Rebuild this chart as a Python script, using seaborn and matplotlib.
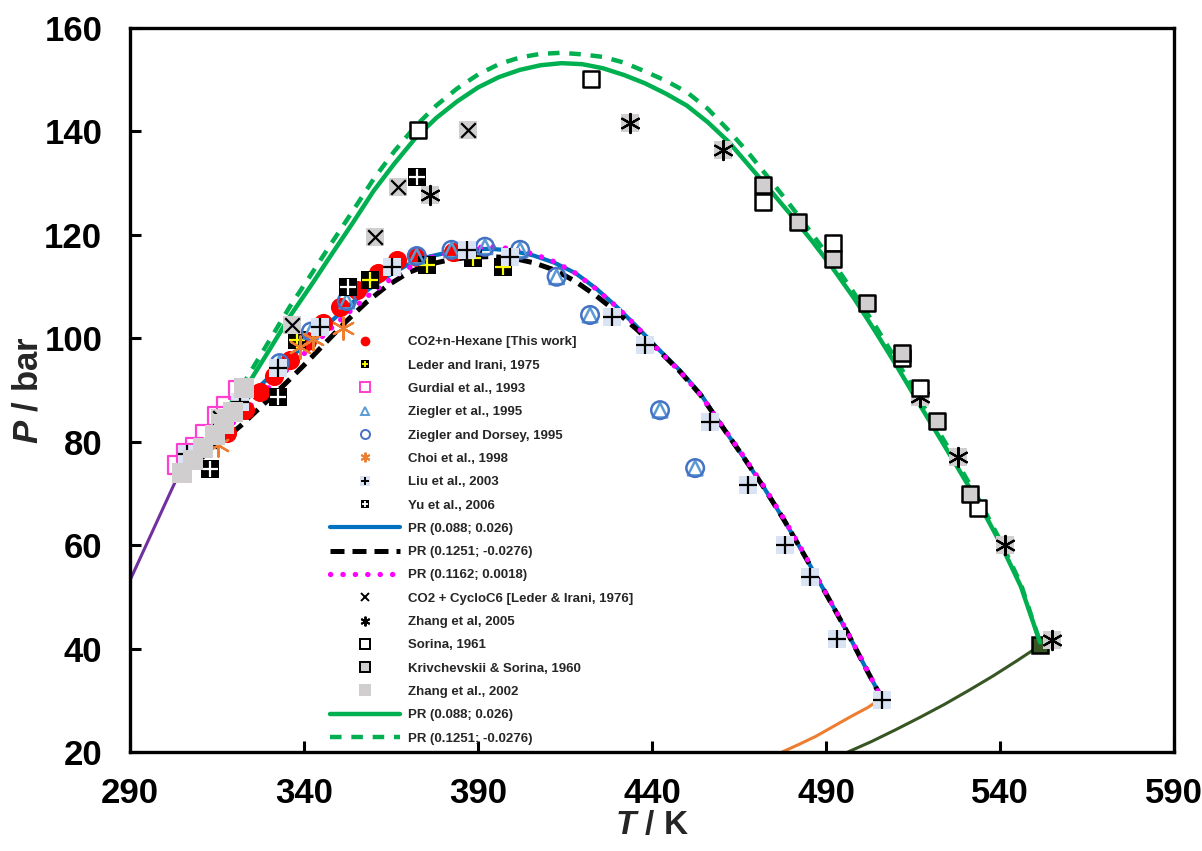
import matplotlib
matplotlib.use("Agg")
import matplotlib.pyplot as plt
import seaborn as sns
from matplotlib.lines import Line2D

# ---------------- data ----------------
# CO2 + n-hexane experimental data
T_red = [317.8, 323, 327.4, 331.5, 336, 341, 345.5, 350.3, 355.1, 361.4, 366.6, 372.4, 382.9]
P_red = [81.6, 86.1, 89.7, 92.8, 95.8, 99.5, 102.9, 106.1, 109.3, 112.6, 115.1, 115.8, 116.7]

T_leder75 = [337.9, 359, 375.3, 388.6, 397.3]
P_leder75 = [99.7, 111.3, 114.2, 115.5, 113.8]

T_gurdial = [303.5, 306, 308.5, 311.5, 315, 317.5, 321]
P_gurdial = [75.5, 77.8, 79, 81.5, 85, 87, 90]

T_zieg95 = [333, 342, 352.3, 372.4, 382.4, 392, 402.1, 412.6, 422.2, 442.3, 452.4]
P_zieg95 = [95.2, 101.3, 107.2, 115.9, 117.1, 117.7, 117.1, 111.9, 104.5, 86.1, 74.9]

T_zd95 = [333, 342, 352.3, 372.4, 382.4, 392, 402.1, 412.6, 422.2, 442.3, 452.4]
P_zd95 = [95.2, 101.3, 107.2, 115.9, 117.1, 117.7, 117.1, 111.9, 104.5, 86.1, 74.9]

T_choi = [315.4, 338.9, 342.7, 351.3]
P_choi = [79.4, 98.3, 99.8, 101.9]

T_liu = [306.3, 321.6, 332.5, 344.6, 365.2, 386.7, 399.2, 428.4, 438, 456.7, 467.7, 478.2, 485.4, 493.1, 506]
P_liu = [77.7, 87.7, 94.2, 102.2, 113.8, 117.1, 115.8, 104.2, 98.7, 83.9, 71.6, 60, 53.9, 41.9, 30]

T_yu = [313, 332.6, 352.7, 372.4]
P_yu = [74.8, 88.7, 110, 131.2]

# PR critical loci, CO2 + n-hexane
T_hex = [304.1, 310, 316, 322, 328, 334, 340, 346, 352, 358, 364, 370, 376, 382, 388, 394,
         400, 406, 412, 418, 424, 430, 436, 442, 448, 454, 460, 466, 472, 478, 484, 490,
         496, 502, 506]
P_pr1 = [73.8, 78.2, 82.8, 87.2, 91.2, 95, 98.6, 102.2, 105.8, 109.2, 112, 114.3, 115.8,
         116.7, 117.2, 117.3, 116.9, 116, 114.6, 112.6, 109.6, 106, 102, 97.8, 93.8, 89.2,
         83.1, 77.3, 71.3, 64.8, 57.8, 50.6, 43.3, 35.5, 30.4]
P_pr2 = [73.8, 76.6, 79.8, 83.2, 87, 90.8, 94.8, 99, 103.2, 107, 110.2, 112.7, 114.3,
         115.2, 115.7, 115.8, 115.5, 114.6, 113.2, 111, 108.2, 105, 101.5, 97.6, 93.6,
         89, 83.1, 77.3, 71.3, 64.8, 57.8, 50.6, 43.3, 35.5, 30.4]
P_pr3 = [73.8, 77.4, 81.3, 85.2, 89.2, 93.2, 97, 100.8, 104.5, 108, 111, 113.6, 115.5,
         116.8, 117.5, 117.7, 117.3, 116.3, 114.8, 112.6, 109.5, 106, 102, 97.6, 93.6,
         89, 83.2, 77.5, 71.5, 65, 58, 50.7, 43.4, 35.6, 30.4]

# CO2 + cyclohexane experimental data
T_leder76 = [315.9, 336.5, 360.4, 367.1, 387.2]
P_leder76 = [84.5, 102.6, 119.6, 129.3, 140.3]

T_zhang05 = [376.2, 433.7, 460.5, 517, 528, 541.4, 554.8]
P_zhang05 = [127.7, 141.6, 136.4, 88.7, 77.1, 60, 41.6]

T_sorina = [372.8, 422.4, 472, 491.9, 511.7, 517, 533.8]
P_sorina = [140.3, 150.1, 126.4, 118.5, 96.1, 90.3, 67.1]

T_kriv = [472, 482, 491.9, 501.9, 511.7, 521.8, 531.4]
P_kriv = [129.6, 122.5, 115.4, 106.8, 97.1, 84, 69.9]

T_zhang02 = [305, 308.1, 311, 314.4, 317, 319.6, 322.8]
P_zhang02 = [73.9, 76.5, 78.8, 81.3, 83.5, 85.7, 90.4]

# PR critical loci, CO2 + cyclohexane
T_cyc = [304.1, 312, 318, 324, 330, 336, 342, 348, 354, 360, 366, 372, 378, 384, 390, 396,
         402, 408, 414, 420, 426, 432, 438, 444, 450, 456, 462, 468, 474, 480, 486, 492,
         498, 504, 510, 516, 522, 528, 534, 540, 546, 551.5]
P_cyc1 = [73.8, 79.5, 85, 91.2, 97.7, 104.3, 110.2, 116.3, 122.3, 128.5, 133.8, 138.7,
          142.6, 145.8, 148.5, 150.5, 151.9, 152.8, 153.2, 153, 152.2, 150.9, 149.3, 147.3,
          145, 141.8, 138, 133.3, 128.6, 123.8, 118.8, 113.5, 107.8, 101.5, 95, 88.2, 81.5,
          74.8, 68, 60.5, 52, 41.2]
P_cyc2 = [73.8, 80.5, 86.3, 92.8, 99.5, 106.2, 112.3, 118.5, 124.6, 130.8, 136.2, 141,
          145, 148.3, 151, 153, 154.3, 155, 155.2, 154.9, 154.4, 153.3, 151.6, 149.8,
          147.6, 144.4, 140.2, 135.6, 130.6, 125.5, 120.2, 114.7, 108.8, 102.6, 96, 89.2,
          82.4, 75.6, 68.7, 61, 52.5, 41.2]

# pure-component vapour-pressure curves
T_co2 = [290, 293, 296, 299, 302, 304.1]
P_co2 = [53.2, 57.6, 62, 66.4, 70.8, 73.8]
T_hexvp = [477.4, 482, 487, 492, 497, 502, 506]
P_hexvp = [20, 21.4, 23, 24.9, 26.8, 28.6, 30.4]
T_cyvp = [496.3, 503, 510, 517, 524, 531, 538, 545, 551.5]
P_cyvp = [20, 22, 24.3, 26.7, 29.2, 31.9, 34.7, 37.7, 40.6]

x_ticks = [290, 340, 390, 440, 490, 540, 590]
y_ticks = [20, 40, 60, 80, 100, 120, 140, 160]

labels = ["CO2+n-Hexane [This work]", "Leder and Irani, 1975", "Gurdial et al., 1993",
          "Ziegler et al., 1995", "Ziegler and Dorsey, 1995", "Choi et al., 1998",
          "Liu et al., 2003", "Yu et al., 2006", "PR (0.088; 0.026)", "PR (0.1251; -0.0276)",
          "PR (0.1162; 0.0018)", "CO2 + CycloC6 [Leder & Irani, 1976]", "Zhang et al, 2005",
          "Sorina, 1961", "Krivchevskii & Sorina, 1960", "Zhang et al., 2002",
          "PR (0.088; 0.026)", "PR (0.1251; -0.0276)"]

# ---------------- styling ----------------
RED = "#FF0000"; YELLOW = "#FFFF00"; PINK = "#FF3FD2"; TRI = "#5B9BD5"; CIRC = "#4472C4"
ORANGE = "#ED7D31"; LIUBG = "#DAE3F3"; GRAY = "#D0CECE"; BLUE = "#0070C0"
MAGENTA = "#FF00FF"; GREEN = "#00B050"; PURPLE = "#7030A0"; DKGREEN = "#375623"
ASTER = (6, 2, 0)
DASH_BLK = (0, (2.8, 1.6))
DASH_GRN = (0, (2.6, 2.2))
DOTS = (0, (0.05, 2.3))

sns.set_theme(style="white")
plt.rcParams["font.family"] = ["Liberation Sans", "DejaVu Sans"]
plt.rcParams["font.weight"] = "bold"
plt.rcParams["mathtext.fontset"] = "custom"
plt.rcParams["mathtext.it"] = "Liberation Sans:italic:bold"
plt.rcParams["mathtext.rm"] = "Liberation Sans:bold"

fig = plt.figure(figsize=(12.02, 8.51), dpi=100)
ax = fig.add_axes([130 / 1202, 1 - 752 / 851, 1044 / 1202, 724 / 851])


def line(x, y, color, lw, ls="-", z=2, **kw):
    sns.lineplot(x=x, y=y, color=color, linewidth=lw, linestyle=ls, sort=False,
                 estimator=None, errorbar=None, legend=False, ax=ax, zorder=z, **kw)


def pts(x, y, marker, s, color, z, edgecolor=None, lw=1.5):
    kw = dict(x=x, y=y, marker=marker, s=s, color=color, linewidth=lw,
              legend=False, ax=ax, zorder=z)
    if edgecolor is not None:
        kw["edgecolor"] = edgecolor
    sns.scatterplot(**kw)


# vapour-pressure curves
line(T_co2, P_co2, PURPLE, 2.2)
line(T_hexvp, P_hexvp, ORANGE, 2.2)
line(T_cyvp, P_cyvp, DKGREEN, 2.2, marker="s", markevery=slice(len(T_cyvp) - 1, None),
     markersize=12, markerfacecolor=DKGREEN, markeredgecolor="black", markeredgewidth=1.8)

# PR lines
line(T_cyc, P_cyc1, GREEN, 3.2, z=2.0)
line(T_cyc, P_cyc2, GREEN, 3.2, ls=DASH_GRN, z=2.01)
line(T_hex, P_pr1, BLUE, 3.0, z=2.1)
line(T_hex, P_pr2, "black", 3.6, ls=DASH_BLK, z=2.2)
line(T_hex, P_pr3, MAGENTA, 3.8, ls=DOTS, z=2.3, dash_capstyle="round")

# markers (drawn in legend order)
z = 3.0
pts(T_red, P_red, "o", 190, RED, z, edgecolor=RED, lw=0)
pts(T_leder75, P_leder75, "s", 150, "black", z + 0.01, edgecolor="black", lw=0)
pts(T_leder75, P_leder75, "+", 130, YELLOW, z + 0.02, lw=1.6)
pts(T_gurdial, P_gurdial, "s", 160, "none", z + 0.03, edgecolor=PINK, lw=1.6)
pts(T_zieg95, P_zieg95, "^", 110, "none", z + 0.04, edgecolor=TRI, lw=1.8)
pts(T_zd95, P_zd95, "o", 160, "none", z + 0.05, edgecolor=CIRC, lw=1.8)
pts(T_choi, P_choi, ASTER, 260, ORANGE, z + 0.06, lw=1.6)
pts(T_liu, P_liu, "s", 150, LIUBG, z + 0.07, edgecolor=LIUBG, lw=0)
pts(T_liu, P_liu, "+", 170, "black", z + 0.08, lw=1.6)
pts(T_yu, P_yu, "s", 150, "black", z + 0.09, edgecolor="black", lw=0)
pts(T_yu, P_yu, "+", 140, "white", z + 0.10, lw=1.6)
pts(T_leder76, P_leder76, "s", 150, GRAY, z + 0.11, edgecolor=GRAY, lw=0)
pts(T_leder76, P_leder76, "x", 110, "black", z + 0.12, lw=1.6)
pts(T_zhang05, P_zhang05, "s", 150, GRAY, z + 0.13, edgecolor=GRAY, lw=0)
pts(T_zhang05, P_zhang05, ASTER, 190, "black", z + 0.14, lw=1.6)
pts(T_sorina, P_sorina, "s", 140, "white", z + 0.15, edgecolor="black", lw=1.8)
pts(T_kriv, P_kriv, "s", 140, GRAY, z + 0.16, edgecolor="black", lw=1.8)
pts(T_zhang02, P_zhang02, "s", 200, GRAY, z + 0.17, edgecolor=GRAY, lw=0)

# axes
ax.set_xlim(x_ticks[0], x_ticks[-1])
ax.set_ylim(y_ticks[0], y_ticks[-1])
ax.set_xticks(x_ticks)
ax.set_yticks(y_ticks)
ax.tick_params(direction="in", length=8, width=2.2, labelsize=25, pad=20,
               colors="black", left=True, bottom=True)
ax.tick_params(axis="x", pad=18)
for sp in ax.spines.values():
    sp.set_visible(True)
    sp.set_linewidth(2.4)
    sp.set_color("black")
ax.set_xlabel("$T$ / K", fontsize=24, fontweight="bold", labelpad=0)
ax.set_ylabel("$P$ / bar", fontsize=25, fontweight="bold", labelpad=0)
ax.grid(False)

# legend
def mk(marker, ms, mfc, mec, mew=1.2):
    return Line2D([], [], linestyle="none", marker=marker, markersize=ms,
                  markerfacecolor=mfc, markeredgecolor=mec, markeredgewidth=mew)

handles = [
    mk("o", 7, RED, RED, 0),
    (mk("s", 6, "black", "black", 0), mk("+", 5, YELLOW, YELLOW, 1.3)),
    mk("s", 6.5, "none", PINK, 1.4),
    mk("^", 6, "none", TRI, 1.4),
    mk("o", 6.5, "none", CIRC, 1.4),
    mk(ASTER, 7, ORANGE, ORANGE, 1.4),
    (mk("s", 7, LIUBG, LIUBG, 0), mk("+", 6, "black", "black", 1.4)),
    (mk("s", 6, "black", "black", 0), mk("+", 5, "white", "white", 1.3)),
    Line2D([], [], color=BLUE, lw=3.0),
    Line2D([], [], color="black", lw=3.6, linestyle=DASH_BLK),
    Line2D([], [], color=MAGENTA, lw=3.8, linestyle=DOTS, dash_capstyle="round"),
    mk("x", 6, "black", "black", 1.4),
    mk(ASTER, 7, "black", "black", 1.4),
    mk("s", 7, "white", "black", 1.4),
    mk("s", 7, GRAY, "black", 1.4),
    mk("s", 8, GRAY, GRAY, 0),
    Line2D([], [], color=GREEN, lw=3.2),
    Line2D([], [], color=GREEN, lw=3.2, linestyle=DASH_GRN),
]
leg = ax.legend(handles, labels, loc="upper left", bbox_to_anchor=(0.1916, 0.5745),
                frameon=False, prop={"weight": "bold", "size": 9.5}, handlelength=5.3,
                handletextpad=0.6, labelspacing=0.84, borderpad=0, borderaxespad=0)
leg.set_zorder(10)

fig.savefig("out.png", dpi=100)
